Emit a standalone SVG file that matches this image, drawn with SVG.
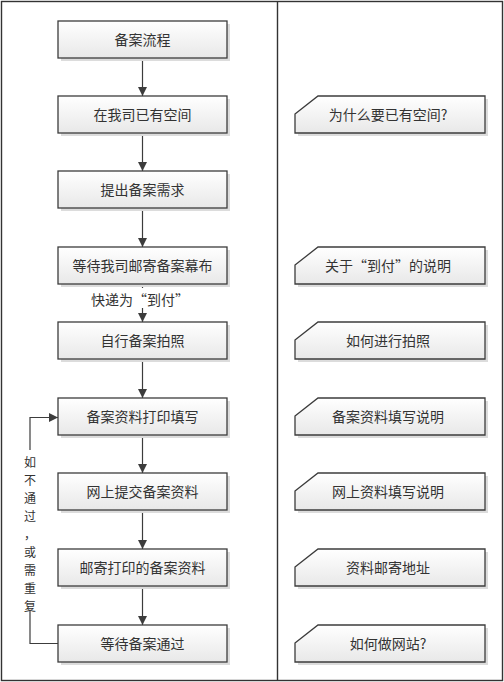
<svg xmlns="http://www.w3.org/2000/svg" width="504" height="682" viewBox="0 0 504 682">
<defs>
<linearGradient id="g" x1="0" y1="0" x2="0" y2="1">
<stop offset="0" stop-color="#ffffff"/>
<stop offset="1" stop-color="#e8e8e8"/>
</linearGradient>
<marker id="arr" markerWidth="9" markerHeight="9" refX="9" refY="4.5" orient="auto" markerUnits="userSpaceOnUse">
<path d="M0,0 L9,4.5 L0,9 Z" fill="#3c3c3c"/>
</marker>
</defs>
<style>
.box{fill:url(#g);stroke:#3c3c3c;stroke-width:1.3}
.sh{fill:#dcdcdc}
.t{font-family:"Noto Sans CJK SC","Noto Sans CJK JP",sans-serif;font-size:14px;fill:#333;text-anchor:middle;dominant-baseline:central}
.v{font-size:12px}
.ln{stroke:#3c3c3c;stroke-width:1.2;fill:none}
</style>
<rect width="504" height="682" fill="#fff"/>
<rect x="1.5" y="1.5" width="501" height="679" fill="none" stroke="#333" stroke-width="1.4"/>
<line x1="277.5" y1="1.5" x2="277.5" y2="680.5" stroke="#333" stroke-width="1.4"/>

<g id="connectors">
<line class="ln" x1="142.5" y1="58" x2="142.5" y2="96" marker-end="url(#arr)"/>
<line class="ln" x1="142.5" y1="133" x2="142.5" y2="171" marker-end="url(#arr)"/>
<line class="ln" x1="142.5" y1="208" x2="142.5" y2="247" marker-end="url(#arr)"/>
<line class="ln" x1="142.5" y1="284" x2="142.5" y2="288"/>
<line class="ln" x1="142.5" y1="308" x2="142.5" y2="322" marker-end="url(#arr)"/>
<text class="t" x="140" y="299">快递为“到付”</text>
<line class="ln" x1="142.5" y1="359" x2="142.5" y2="398" marker-end="url(#arr)"/>
<line class="ln" x1="142.5" y1="435" x2="142.5" y2="473" marker-end="url(#arr)"/>
<line class="ln" x1="142.5" y1="510" x2="142.5" y2="549" marker-end="url(#arr)"/>
<line class="ln" x1="142.5" y1="586" x2="142.5" y2="625" marker-end="url(#arr)"/>
<polyline class="ln" points="30,450 30,417.5 58,417.5" marker-end="url(#arr)"/>
<polyline class="ln" points="30,611 30,643.5 58,643.5"/>
<text class="t v" x="30" y="461">如</text>
<text class="t v" x="30" y="479">不</text>
<text class="t v" x="30" y="497">通</text>
<text class="t v" x="30" y="515">过</text>
<text class="t v" x="30" y="533">，</text>
<text class="t v" x="30" y="551">或</text>
<text class="t v" x="30" y="569">需</text>
<text class="t v" x="30" y="587">重</text>
<text class="t v" x="30" y="605">复</text>
</g>

<g id="n1"><rect class="sh" x="61" y="24" width="169" height="37"/><rect class="box" x="58" y="21" width="169" height="37"/><text class="t" x="142.5" y="39">备案流程</text></g>
<g id="n2"><rect class="sh" x="61" y="99" width="169" height="37"/><rect class="box" x="58" y="96" width="169" height="37"/><text class="t" x="142.5" y="114">在我司已有空间</text></g>
<g id="n3"><rect class="sh" x="61" y="174" width="169" height="37"/><rect class="box" x="58" y="171" width="169" height="37"/><text class="t" x="142.5" y="189">提出备案需求</text></g>
<g id="n4"><rect class="sh" x="61" y="250" width="169" height="37"/><rect class="box" x="58" y="247" width="169" height="37"/><text class="t" x="142.5" y="265">等待我司邮寄备案幕布</text></g>
<g id="n5"><rect class="sh" x="61" y="325" width="169" height="37"/><rect class="box" x="58" y="322" width="169" height="37"/><text class="t" x="142.5" y="340">自行备案拍照</text></g>
<g id="n6"><rect class="sh" x="61" y="401" width="169" height="37"/><rect class="box" x="58" y="398" width="169" height="37"/><text class="t" x="142.5" y="416">备案资料打印填写</text></g>
<g id="n7"><rect class="sh" x="61" y="476" width="169" height="37"/><rect class="box" x="58" y="473" width="169" height="37"/><text class="t" x="142.5" y="491">网上提交备案资料</text></g>
<g id="n8"><rect class="sh" x="61" y="552" width="169" height="37"/><rect class="box" x="58" y="549" width="169" height="37"/><text class="t" x="142.5" y="567">邮寄打印的备案资料</text></g>
<g id="n9"><rect class="sh" x="61" y="628" width="169" height="37"/><rect class="box" x="58" y="625" width="169" height="37"/><text class="t" x="142.5" y="643">等待备案通过</text></g>

<g id="c1"><path class="sh" d="M298,117 L321,99 L488,99 L488,136 L298,136 Z"/><path class="box" d="M295,114 L318,96 L485,96 L485,133 L295,133 Z"/><text class="t" x="388" y="114">为什么要已有空间?</text></g>
<g id="c2"><path class="sh" d="M298,268 L321,250 L488,250 L488,287 L298,287 Z"/><path class="box" d="M295,265 L318,247 L485,247 L485,284 L295,284 Z"/><text class="t" x="388" y="265">关于“到付”的说明</text></g>
<g id="c3"><path class="sh" d="M298,343 L321,325 L488,325 L488,362 L298,362 Z"/><path class="box" d="M295,340 L318,322 L485,322 L485,359 L295,359 Z"/><text class="t" x="388" y="340">如何进行拍照</text></g>
<g id="c4"><path class="sh" d="M298,419 L321,401 L488,401 L488,438 L298,438 Z"/><path class="box" d="M295,416 L318,398 L485,398 L485,435 L295,435 Z"/><text class="t" x="388" y="416">备案资料填写说明</text></g>
<g id="c5"><path class="sh" d="M298,494 L321,476 L488,476 L488,513 L298,513 Z"/><path class="box" d="M295,491 L318,473 L485,473 L485,510 L295,510 Z"/><text class="t" x="388" y="491">网上资料填写说明</text></g>
<g id="c6"><path class="sh" d="M298,570 L321,552 L488,552 L488,589 L298,589 Z"/><path class="box" d="M295,567 L318,549 L485,549 L485,586 L295,586 Z"/><text class="t" x="388" y="567">资料邮寄地址</text></g>
<g id="c7"><path class="sh" d="M298,646 L321,628 L488,628 L488,665 L298,665 Z"/><path class="box" d="M295,643 L318,625 L485,625 L485,662 L295,662 Z"/><text class="t" x="388" y="643">如何做网站?</text></g>
</svg>
